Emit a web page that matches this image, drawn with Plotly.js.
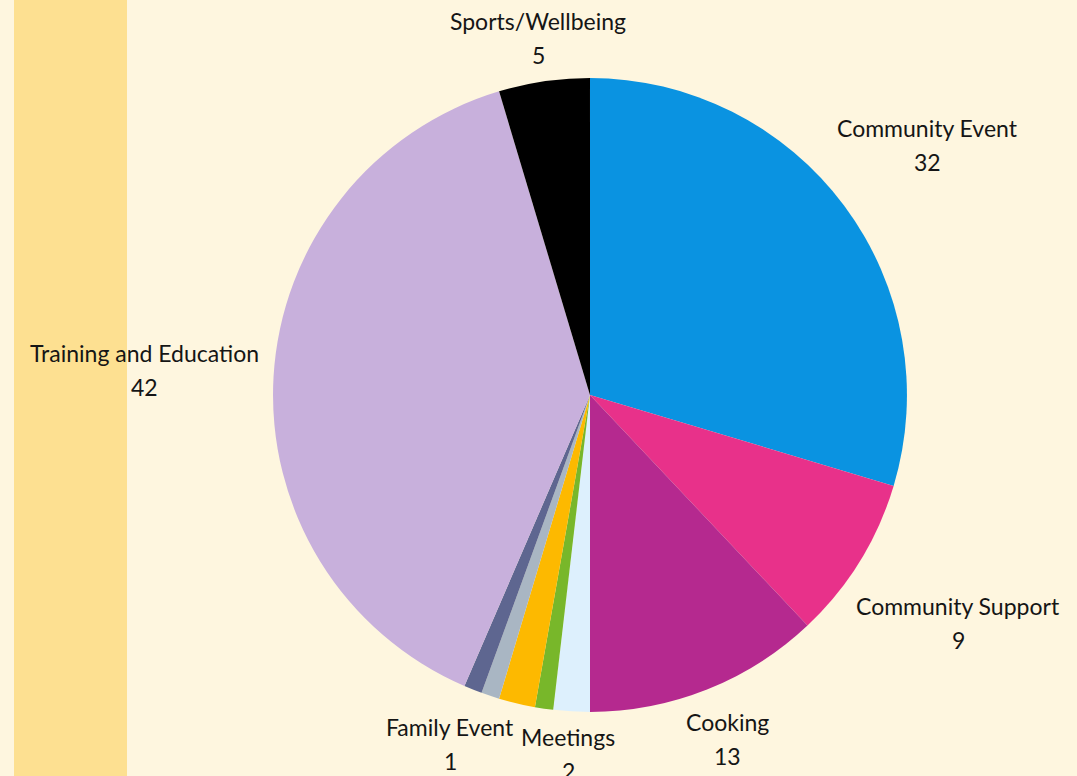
<!DOCTYPE html>
<html>
<head>
<meta charset="utf-8">
<script src="https://cdn.plot.ly/plotly-3.0.1.min.js"></script>
<style>
  html, body { margin: 0; padding: 0; background: #fef6df; }
  #chart { width: 1077px; height: 776px; }
</style>
</head>
<body>
<div id="chart"></div>
<script>
// slices, clockwise from 12 o'clock
var categories = ["Community Event", "Community Support", "Cooking", "Meetings",
  "Health", "Arts and Crafts", "Volunteering", "Family Event",
  "Training and Education", "Sports/Wellbeing"];
var counts = [32, 9, 13, 2, 1, 2, 1, 1, 42, 5];
var sliceColors = ["#0a93e1", "#e8318a", "#b5298f", "#ddf0fd", "#78b72a",
  "#fdb900", "#a9b6c3", "#5e6690", "#c8b0dc", "#000000"];

// where each data label sits (pixels from top-left), null = no label
var labelSpots = [[927, 128], [958, 606], [727, 722], [568, 737],
  null, null, null, [450, 727], [144, 353], [538, 21]];

var W = 1077, H = 776, lineGap = 34;
var labelFont = { family: "Lato, 'Open Sans', sans-serif", size: 23, color: "#151515" };

var annotations = [];
categories.forEach(function (name, i) {
  var p = labelSpots[i];
  if (!p) return;
  [name, String(counts[i])].forEach(function (txt, k) {
    annotations.push({
      xref: "paper", yref: "paper",
      x: p[0] / W, y: 1 - (p[1] + k * lineGap) / H,
      xanchor: "center", yanchor: "middle",
      text: txt, showarrow: false, font: labelFont
    });
  });
});

var trace = {
  type: "pie",
  labels: categories,
  values: counts,
  sort: false,
  direction: "clockwise",
  rotation: 0,
  marker: { colors: sliceColors, line: { width: 0 } },
  textinfo: "none",
  hoverinfo: "label+value",
  domain: { x: [0.2535, 0.8421], y: [0.0825, 0.8995] }
};

var layout = {
  width: W,
  height: H,
  margin: { l: 0, r: 0, t: 0, b: 0 },
  paper_bgcolor: "#fef6df",
  plot_bgcolor: "#fef6df",
  showlegend: false,
  annotations: annotations,
  shapes: [{
    type: "rect", xref: "paper", yref: "paper",
    x0: 14 / W, x1: 127 / W, y0: 0, y1: 1,
    fillcolor: "#fde091", line: { width: 0 }, layer: "below"
  }]
};

Plotly.newPlot("chart", [trace], layout, { displayModeBar: false });
</script>
</body>
</html>
